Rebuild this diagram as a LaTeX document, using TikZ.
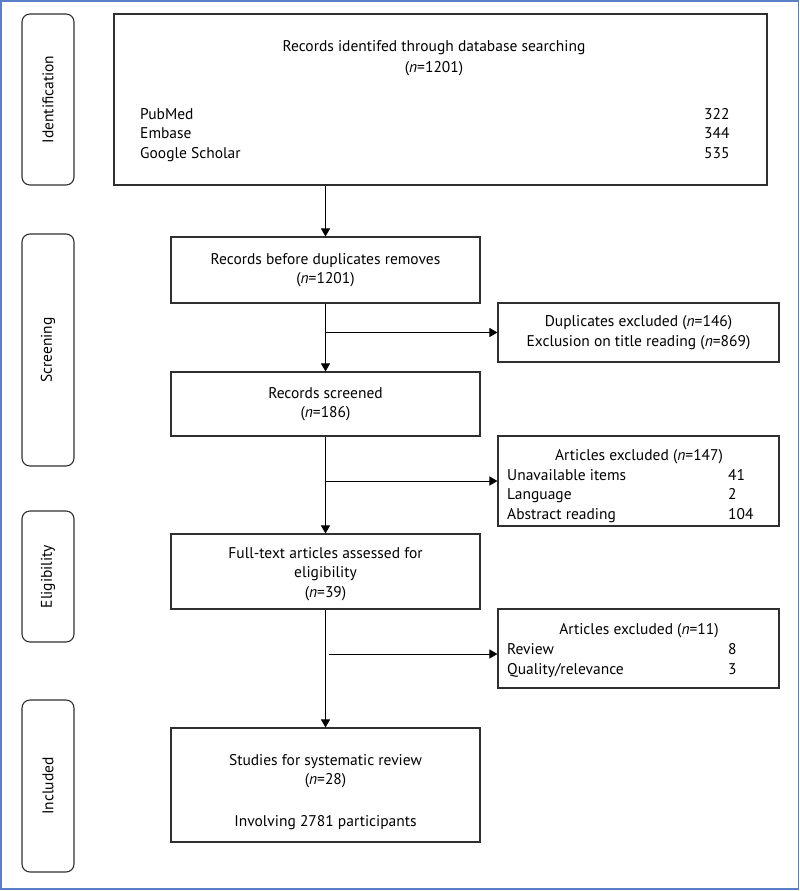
\documentclass[tikz,border=0pt]{standalone}
\usepackage{fontspec}
\setmainfont{PT Sans}
\usetikzlibrary{arrows.meta}
\newcommand\myfs{\fontsize{15.5}{19.5}\selectfont}
\definecolor{boxc}{HTML}{2F2F2F}
\definecolor{frame}{HTML}{5B7FC7}
\begin{document}
\begin{tikzpicture}[x=1pt,y=-1pt,
  box/.style={draw=boxc, line width=1.1pt, minimum width=309pt, inner sep=0pt, align=center, font=\myfs},
  exbox/.style={draw=boxc, line width=1.1pt, minimum width=281pt, inner sep=0pt, align=center, font=\myfs},
  side/.style={draw=boxc, line width=1.1pt, rounded corners=8pt, rotate=90, minimum height=52pt, inner sep=0pt, font=\myfs},
  txt/.style={inner sep=0pt, font=\myfs, text height=10.5pt, text depth=3.5pt, yshift=-1.5pt},
  mtxt/.style={inner sep=0pt, font=\myfs, align=center},
  arr/.style={draw=black, line width=1pt, -{Triangle[width=9pt,length=8pt]}}]
\useasboundingbox (0,0) rectangle (800,891);
\draw[frame, line width=1.5pt] (1,1) rectangle (798.5,889);
% side labels
\node[side, minimum width=171pt] (sid) at (48,99.5) {Identification};
\node[side, minimum width=232pt] (scr) at (48,350) {Screening};
\node[side, minimum width=131pt] (eli) at (48,576.5) {Eligibility};
\node[side, minimum width=172pt] (inc) at (48,786) {Included};
% top box
\node[draw=boxc, line width=1.1pt, minimum width=653pt, minimum height=171pt, inner sep=0pt] (top) at (440.5,99.5) {};
\node[txt] (toph) at (434,47) {Records identifed through database searching};
\node[txt] (topn) at (434,67) {(\textit{n}=1201)};
\node[txt, anchor=west] (pm) at (140,114) {PubMed};
\node[txt, anchor=west] (em) at (140,133.5) {Embase};
\node[txt, anchor=west] (gs) at (140,153) {Google Scholar};
\node[txt, anchor=west] (pmn) at (704,114) {322};
\node[txt, anchor=west] (emn) at (704,133.5) {344};
\node[txt, anchor=west] (gsn) at (704,153) {535};
% main column
\node[box, minimum height=66pt] (b2) at (325.5,270) {Records before duplicates removes\\(\textit{n}=1201)};
\node[box, minimum height=64pt] (b3) at (325.5,404) {Records screened\\(\textit{n}=186)};
\node[box, minimum height=75pt] (b4) at (325.5,571.5) {};
\node[mtxt] (b4t) at (325.5,574) {Full-text articles assessed for\\eligibility\\(\textit{n}=39)};
\node[box, minimum height=114pt] (b5) at (325.5,785) {};
\node[mtxt] (b5t) at (325.5,792) {Studies for systematic review\\(\textit{n}=28)\\[22pt]Involving 2781 participants};
% exclusion boxes
\node[exbox, minimum height=59pt] (dup) at (638.5,332.5) {Duplicates excluded (\textit{n}=146)\\Exclusion on title reading (\textit{n}=869)};
\node[exbox, minimum height=90pt] (ex1) at (638.5,481) {};
\node[txt] (ex1h) at (639,455) {Articles excluded (\textit{n}=147)};
\node[txt, anchor=west] (ua) at (507,475) {Unavailable items};
\node[txt, anchor=west] (la) at (507,494.5) {Language};
\node[txt, anchor=west] (ab) at (507,514) {Abstract reading};
\node[txt, anchor=west] (uan) at (728,475) {41};
\node[txt, anchor=west] (lan) at (728,494.5) {2};
\node[txt, anchor=west] (abn) at (728,514) {104};
\node[exbox, minimum height=79pt] (ex2) at (638.5,648.5) {};
\node[txt] (ex2h) at (639,629) {Articles excluded (\textit{n}=11)};
\node[txt, anchor=west] (rv) at (507,649) {Review};
\node[txt, anchor=west] (ql) at (507,669) {Quality/relevance};
\node[txt, anchor=west] (rvn) at (728,649) {8};
\node[txt, anchor=west] (qln) at (728,669) {3};
% connectors
\draw[arr] (b2.north |- top.south) -- (b2.north);
\draw[arr] (b2.south) -- (b3.north);
\draw[arr] (b3.south) -- (b4.north);
\draw[arr] (b4.south) -- (b5.north);
\coordinate (j1) at (325.5,332.5);
\coordinate (j2) at (325.5,481);
\coordinate (j3) at (329,654);
\draw[arr] (j1) -- (dup.west);
\draw[arr] (j2) -- (ex1.west);
\draw[arr] (j3) -- (j3 -| ex2.west);
\end{tikzpicture}
\end{document}
